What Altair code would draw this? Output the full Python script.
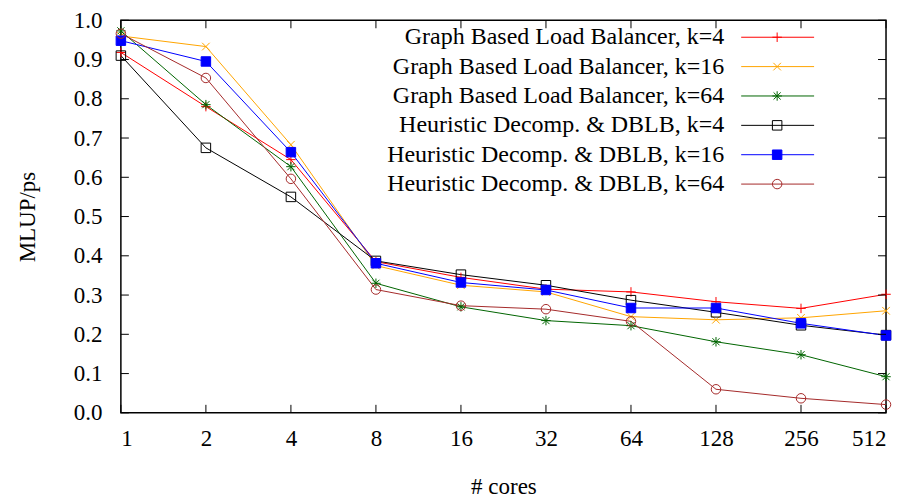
import altair as alt
import pandas as pd

cores = [1, 2, 4, 8, 16, 32, 64, 128, 256, 512]
series_names = [
    "Graph Based Load Balancer, k=4",
    "Graph Based Load Balancer, k=16",
    "Graph Based Load Balancer, k=64",
    "Heuristic Decomp. & DBLB, k=4",
    "Heuristic Decomp. & DBLB, k=16",
    "Heuristic Decomp. & DBLB, k=64",
]
gblb_k4 = [0.918, 0.780, 0.645, 0.385, 0.345, 0.315, 0.308, 0.283, 0.266, 0.302]
gblb_k16 = [0.960, 0.933, 0.683, 0.375, 0.325, 0.308, 0.245, 0.237, 0.242, 0.260]
gblb_k64 = [0.973, 0.785, 0.627, 0.330, 0.270, 0.235, 0.222, 0.181, 0.148, 0.092]
hd_k4 = [0.910, 0.675, 0.550, 0.387, 0.352, 0.325, 0.287, 0.256, 0.223, 0.198]
hd_k16 = [0.948, 0.895, 0.664, 0.381, 0.332, 0.313, 0.267, 0.267, 0.228, 0.197]
hd_k64 = [0.966, 0.853, 0.596, 0.314, 0.273, 0.264, 0.233, 0.060, 0.037, 0.021]
all_values = [gblb_k4, gblb_k16, gblb_k64, hd_k4, hd_k16, hd_k64]

colors = ["#ff0000", "#ffa500", "#006400", "#000000", "#0000ff", "#a52a2a"]
fills = ["transparent", "transparent", "transparent", "transparent", "#0000ff", "transparent"]
shapes = [
    "M-1,0L1,0M0,-1L0,1",
    "M-0.8,-0.8L0.8,0.8M-0.8,0.8L0.8,-0.8",
    "M-1,0L1,0M0,-1L0,1M-0.75,-0.75L0.75,0.75M-0.75,0.75L0.75,-0.75",
    "square",
    "square",
    "circle",
]
y_ticks = [0.0, 0.1, 0.2, 0.3, 0.4, 0.5, 0.6, 0.7, 0.8, 0.9, 1.0]

rows = []
for name, vals in zip(series_names, all_values):
    for c, v in zip(cores, vals):
        rows.append({"series": name, "cores": c, "value": v})
df = pd.DataFrame(rows)
df["order"] = df["series"].map({n: i for i, n in enumerate(series_names)})
leg = pd.DataFrame({"series": series_names, "row": list(range(len(series_names)))})
xt = pd.DataFrame({"cores": cores})
yt = pd.DataFrame({"t": y_ticks})

W, H = 766, 393
FONT = "Liberation Serif"
FS = 23

xscale = alt.Scale(type="log", base=2, domain=[1, 512], nice=False)
yscale = alt.Scale(domain=[0, 1], nice=False, zero=False)
cscale = alt.Scale(domain=series_names, range=colors)
fscale = alt.Scale(domain=series_names, range=fills)
sscale = alt.Scale(domain=series_names, range=shapes)

xaxis = alt.Axis(values=cores, format="d", title="# cores",
                 labelFont=FONT, labelFontSize=FS, labelColor="black",
                 titleFont=FONT, titleFontSize=FS, titleColor="black",
                 titleFontWeight="normal",
                 labelPadding=15, titleY=74, titleBaseline="middle")
yaxis = alt.Axis(values=y_ticks, format=".1f", title="MLUP/ps",
                 labelFont=FONT, labelFontSize=FS, labelColor="black",
                 titleFont=FONT, titleFontSize=FS, titleColor="black",
                 titleFontWeight="normal",
                 labelPadding=19, titleX=-93, titleY=H / 2,
                 titleAngle=270, titleBaseline="middle", titleAlign="center")

X = alt.X("cores:Q", scale=xscale, axis=xaxis)

base = alt.Chart(df)

lines = base.mark_line(strokeWidth=1).encode(
    x=X,
    y=alt.Y("value:Q", scale=yscale, axis=yaxis),
    color=alt.Color("series:N", scale=cscale, legend=None),
    order=alt.Order("order:Q"),
)

points = base.mark_point(strokeWidth=1, opacity=1).encode(
    x=X,
    y=alt.Y("value:Q", scale=yscale, axis=None),
    stroke=alt.Stroke("series:N", scale=cscale, legend=None),
    fill=alt.Fill("series:N", scale=fscale, legend=None),
    shape=alt.Shape("series:N", scale=sscale, legend=None),
    size=alt.value(90),
)

tick_y = alt.Y("t:Q", scale=yscale, axis=None)
yt_left = alt.Chart(yt).mark_rule(color="black", strokeWidth=1).encode(
    y=tick_y, x=alt.value(0), x2=alt.value(8))
yt_right = alt.Chart(yt).mark_rule(color="black", strokeWidth=1).encode(
    y=tick_y, x=alt.value(W - 8), x2=alt.value(W))
xt_bot = alt.Chart(xt).mark_rule(color="black", strokeWidth=1).encode(
    x=X, y=alt.value(H - 8), y2=alt.value(H))
xt_top = alt.Chart(xt).mark_rule(color="black", strokeWidth=1).encode(
    x=X, y=alt.value(0), y2=alt.value(8))

leg_y = alt.Y("row:Q", scale=alt.Scale(domain=[0, 5], range=[17, 164]), axis=None)
leg_text = alt.Chart(leg).mark_text(align="right", baseline="middle",
                                    font=FONT, fontSize=24, color="black").encode(
    x=alt.value(604), y=leg_y, text="series:N")
leg_rule = alt.Chart(leg).mark_rule(strokeWidth=1).encode(
    x=alt.value(621), x2=alt.value(694), y=leg_y,
    color=alt.Color("series:N", scale=cscale, legend=None))
leg_pt = alt.Chart(leg).mark_point(strokeWidth=1, opacity=1).encode(
    x=alt.value(657), y=leg_y,
    stroke=alt.Stroke("series:N", scale=cscale, legend=None),
    fill=alt.Fill("series:N", scale=fscale, legend=None),
    shape=alt.Shape("series:N", scale=sscale, legend=None),
    size=alt.value(90),
)

chart = alt.layer(
    lines, points, yt_left, yt_right, xt_bot, xt_top, leg_text, leg_rule, leg_pt
).resolve_scale(y="independent").properties(
    width=W, height=H,
    autosize=alt.AutoSizeParams(type="none"),
    padding={"left": 113, "top": 12, "right": 20, "bottom": 88},
).configure_view(
    stroke="black", strokeWidth=1.5
).configure_axis(
    domain=False, ticks=False, grid=False,
)

chart.save("out.html", embed_options={"renderer": "svg", "actions": False})
